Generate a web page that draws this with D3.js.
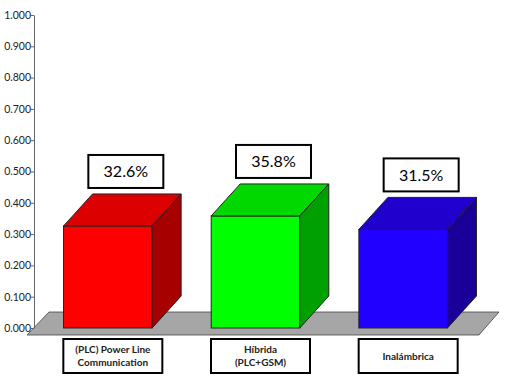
<!DOCTYPE html>
<html>
<head>
<meta charset="utf-8">
<script src="https://cdn.jsdelivr.net/npm/d3@7"></script>
<style>
  body { margin: 0; background: #fff; }
  text { font-family: Lato, "Open Sans", sans-serif; }
</style>
</head>
<body>
<div id="chart"></div>
<script>
// data
var categories = ["(PLC) Power Line|Communication", "Híbrida|(PLC+GSM)", "Inalámbrica"];
var values = [0.326, 0.358, 0.315];
var valueLabels = ["32.6%", "35.8%", "31.5%"];
var yTicks = [0, 0.1, 0.2, 0.3, 0.4, 0.5, 0.6, 0.7, 0.8, 0.9, 1.0];
var frontColors = ["#ff0000", "#00ff00", "#2200ff"];
var topColors = ["#dd0000", "#00d800", "#1f00cc"];
var sideColors = ["#a60000", "#00a000", "#1a0099"];

var width = 507, height = 380;
var dx = 29, dy = -32; // bar depth

var svg = d3.select("#chart")
    .append("svg")
    .attr("width", width)
    .attr("height", height);

var yScale = d3.scaleLinear()
    .domain([0, 1])
    .range([328, 15]);

var xScale = d3.scaleBand()
    .domain(d3.range(categories.length))
    .range([34, 477])
    .paddingInner(0.4)
    .paddingOuter(0.2);

var bw = xScale.bandwidth();
var y0 = yScale(0);

// floor
var floorPts = [[27, y0 + 7], [49, y0 - 16], [499, y0 - 16], [479, y0 + 7]];
svg.append("polygon")
    .attr("points", floorPts.map(p => p.join(",")).join(" "))
    .attr("fill", "#a6a6a6")
    .attr("stroke", "#444")
    .attr("stroke-width", 0.8);

// y axis
var yAxis = d3.axisLeft(yScale)
    .tickValues(yTicks)
    .tickFormat(d3.format(".3f"))
    .tickSize(3)
    .tickSizeOuter(0);

var axisG = svg.append("g")
    .attr("transform", "translate(34,0)")
    .call(yAxis);
axisG.select(".domain").attr("stroke", "#666");
axisG.selectAll(".tick line").attr("stroke", "#666");
axisG.selectAll(".tick text")
    .attr("x", -3)
    .attr("fill", "#222")
    .style("font-family", "Lato, sans-serif")
    .style("font-size", "10.5px");

// bars
var bars = svg.selectAll(".bar")
    .data(values)
    .enter()
    .append("g")
    .attr("class", "bar");

bars.append("rect")
    .attr("x", (d, i) => xScale(i))
    .attr("y", d => yScale(d))
    .attr("width", bw)
    .attr("height", d => y0 - yScale(d))
    .attr("fill", (d, i) => frontColors[i])
    .attr("stroke", "#222")
    .attr("stroke-width", 1);

bars.append("polygon")
    .attr("points", function(d, i) {
        var x = xScale(i), yt = yScale(d);
        return [[x, yt], [x + dx, yt + dy], [x + bw + dx, yt + dy], [x + bw, yt]]
            .map(p => p.join(",")).join(" ");
    })
    .attr("fill", (d, i) => topColors[i])
    .attr("stroke", "#222")
    .attr("stroke-width", 1);

bars.append("polygon")
    .attr("points", function(d, i) {
        var x = xScale(i) + bw, yt = yScale(d);
        return [[x, yt], [x + dx, yt + dy], [x + dx, y0 + dy], [x, y0]]
            .map(p => p.join(",")).join(" ");
    })
    .attr("fill", (d, i) => sideColors[i])
    .attr("stroke", "#222")
    .attr("stroke-width", 1);

// value boxes
var vb = svg.selectAll(".vbox")
    .data(values)
    .enter()
    .append("g")
    .attr("class", "vbox");

vb.append("rect")
    .attr("x", (d, i) => xScale(i) + bw / 2 + 18 - 37.5)
    .attr("y", d => yScale(d) - 38 - 33)
    .attr("width", 75)
    .attr("height", 33)
    .attr("fill", "#fff")
    .attr("stroke", "#000")
    .attr("stroke-width", 2);

vb.append("text")
    .attr("x", (d, i) => xScale(i) + bw / 2 + 18)
    .attr("y", d => yScale(d) - 38 - 16.5)
    .attr("dy", "0.35em")
    .attr("text-anchor", "middle")
    .attr("font-size", "16px")
    .attr("fill", "#000")
    .text((d, i) => valueLabels[i]);

// category boxes
var cb = svg.selectAll(".cbox")
    .data(categories)
    .enter()
    .append("g")
    .attr("class", "cbox");

cb.append("rect")
    .attr("x", (d, i) => xScale(i) + bw / 2 + 5 - 49.5)
    .attr("y", 339)
    .attr("width", 99)
    .attr("height", 34)
    .attr("fill", "#fff")
    .attr("stroke", "#000")
    .attr("stroke-width", 2);

cb.each(function(d, i) {
    var lines = d.split("|");
    var cx = xScale(i) + bw / 2 + 5;
    var startY = 356 - (lines.length - 1) * 6.5;
    d3.select(this).selectAll("text.lbl")
        .data(lines)
        .enter()
        .append("text")
        .attr("class", "lbl")
        .attr("x", cx)
        .attr("y", (l, j) => startY + j * 13)
        .attr("dy", "0.35em")
        .attr("text-anchor", "middle")
        .attr("font-size", "10px")
        .attr("font-weight", "bold")
        .attr("fill", "#222")
        .text(l => l);
});
</script>
</body>
</html>
